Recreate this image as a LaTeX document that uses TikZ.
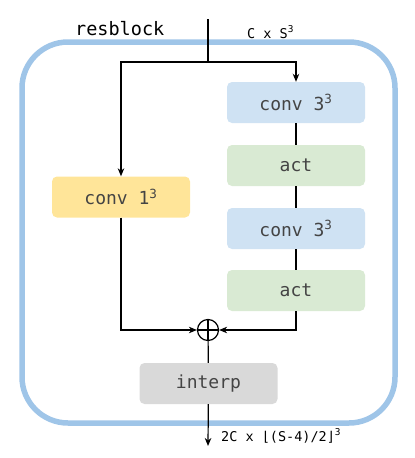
\documentclass[tikz,border=0pt]{standalone}
\usepackage{fontspec}
\usetikzlibrary{arrows.meta,positioning,calc}
\newfontfamily\blockfont{DejaVu Sans Mono}
\definecolor{ResFrame}{HTML}{9FC5E8}
\definecolor{ResBlue}{HTML}{CFE2F3}
\definecolor{ResGreen}{HTML}{D9EAD3}
\definecolor{ResGold}{HTML}{FFE599}
\definecolor{ResGray}{HTML}{D9D9D9}
\definecolor{ResText}{HTML}{444444}

\begin{document}
\begin{tikzpicture}[x=1pt,y=-1pt,
    layerbox/.style={
      rounded corners=5pt,
      minimum width=138pt,
      minimum height=41pt,
      inner sep=0pt,
      text=ResText,
      font=\blockfont\fontsize{18}{20}\selectfont
    },
    sizelabel/.style={
      inner sep=0pt,
      anchor=base west,
      font=\blockfont\fontsize{13.5}{15}\selectfont
    },
    arrow/.style={
      -{Stealth[length=8pt,width=6.5pt,inset=2.5pt]},
      line width=1.2pt
    },
    plain/.style={line width=1.2pt}]

    \useasboundingbox (0,0) rectangle (415,458);

    % Frame
    \draw[ResFrame,line width=5.5pt,rounded corners=46pt] (22,42) rectangle (395,423);
    \node[anchor=base west,inner sep=0pt,font=\blockfont\fontsize{18.5}{20}\selectfont] (title) at (75,35) {resblock};

    % Main path
    \node[layerbox,fill=ResBlue] (conv3a) at (296,102.5) {conv 3\textsuperscript{3}};
    \node[layerbox,fill=ResGreen] (act1) at (296,165.5) {act};
    \node[layerbox,fill=ResBlue] (conv3b) at (296,228.5) {conv 3\textsuperscript{3}};
    \node[layerbox,fill=ResGreen] (act2) at (296,290.5) {act};

    % Shortcut
    \node[layerbox,fill=ResGold] (conv1) at (121,197) {conv 1\textsuperscript{3}};

    % Sum and resampling
    \node[circle,draw,line width=1.2pt,minimum size=21pt,inner sep=0pt,
      path picture={
        \draw[line width=1.2pt] (path picture bounding box.north) -- (path picture bounding box.south);
        \draw[line width=1.2pt] (path picture bounding box.west) -- (path picture bounding box.east);
      }] (sum) at (208,330) {};
    \node[layerbox,fill=ResGray] (interp) at (208.5,383.5) {interp};

    \coordinate (in) at (208,19);
    \coordinate (split) at (208,62);
    \coordinate (out) at (208,446);

    \node[sizelabel] (insize) at (247,38) {C x S\textsuperscript{3}};
    \node[sizelabel] (outsize) at (221,441) {2C x ⌊(S-4)/2⌋\textsuperscript{3}};

    % Connectors
    \draw[plain] (in) -- (split);
    \draw[arrow] (split) -| (conv3a.north);
    \draw[arrow] (split) -| (conv1.north);
    \draw[plain] (conv3a) -- (act1);
    \draw[plain] (act1) -- (conv3b);
    \draw[plain] (conv3b) -- (act2);
    \draw[arrow] (conv1.south) |- (sum.west);
    \draw[arrow] (act2.south) |- (sum.east);
    \draw[plain] (sum) -- (interp);
    \draw[arrow] (interp) -- (out);
  \end{tikzpicture}
\end{document}
